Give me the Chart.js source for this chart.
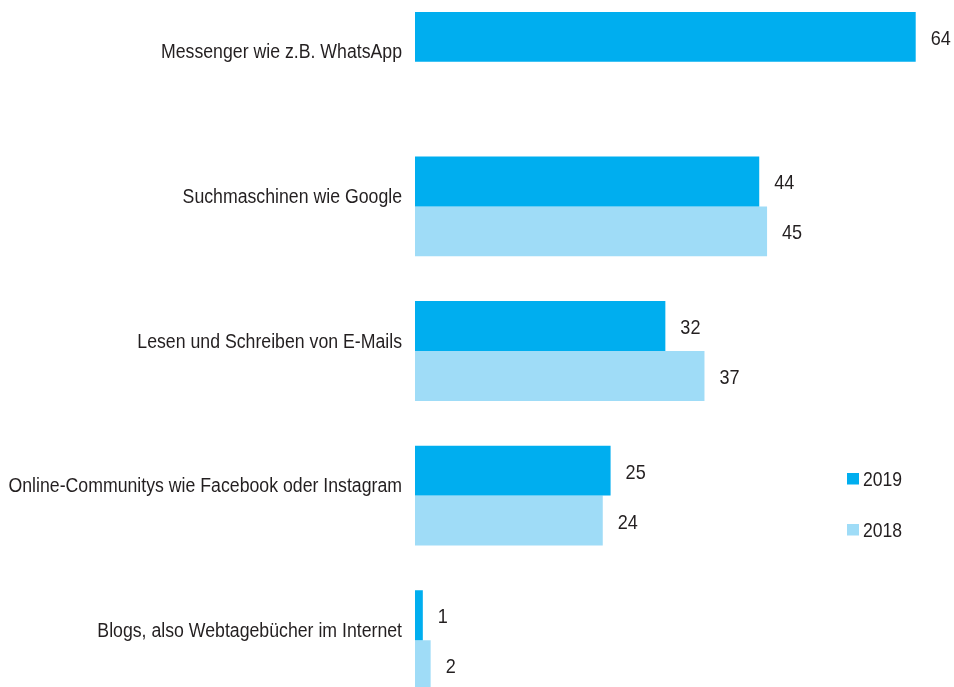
<!DOCTYPE html>
<html>
<head>
<meta charset="utf-8">
<script src="https://cdn.jsdelivr.net/npm/chart.js@4.4.1/dist/chart.umd.min.js"></script>
<style>
  html, body { margin: 0; padding: 0; background: #fff; overflow: hidden; }
  #frame { width: 954px; height: 687px; position: relative; overflow: hidden; }
  #wrap { width: 954px; height: 724px; position: absolute; left: 0; top: -11px; }
</style>
</head>
<body>
<div id="frame"><div id="wrap"><canvas id="chart"></canvas></div></div>
<script>
const categories = [
  'Messenger wie z.B. WhatsApp',
  'Suchmaschinen wie Google',
  'Lesen und Schreiben von E-Mails',
  'Online-Communitys wie Facebook oder Instagram',
  'Blogs, also Webtagebücher im Internet'
];
const values2019 = [64, 44, 32, 25, 1];
const values2018 = [null, 45, 37, 24, 2];
const seriesLabels = ['2019', '2018'];

const FONT = "'Liberation Sans', Arial, sans-serif";
const TEXT = '#231f20';
const SHIFT = 11; // canvas is moved up by this much

// condensed text: normal face squeezed horizontally
function narrowText(ctx, text, x, y, size, squeeze, align) {
  ctx.save();
  ctx.font = size + 'px ' + FONT;
  ctx.textAlign = align;
  ctx.textBaseline = 'alphabetic';
  ctx.translate(x, y);
  ctx.scale(squeeze, 1);
  ctx.fillText(text, 0, 0);
  ctx.restore();
}

// category names left of the bars
const categoryLabels = {
  id: 'categoryLabels',
  afterDraw(chart) {
    const ctx = chart.ctx;
    const yScale = chart.scales.y;
    ctx.fillStyle = TEXT;
    chart.data.labels.forEach((label, i) => {
      const y = yScale.getPixelForTick(i);
      narrowText(ctx, label, 402, y - 3.5, 20, 0.885, 'right');
    });
  }
};

// value next to the end of each bar
const valueLabels = {
  id: 'valueLabels',
  afterDatasetsDraw(chart) {
    const ctx = chart.ctx;
    ctx.fillStyle = TEXT;
    chart.data.datasets.forEach((ds, i) => {
      chart.getDatasetMeta(i).data.forEach((bar, j) => {
        if (ds.data[j] == null) return;
        narrowText(ctx, String(ds.data[j]), bar.x + 15, bar.y + 8, 21, 0.86, 'left');
      });
    });
  }
};

// legend on the right side
const sideLegend = {
  id: 'sideLegend',
  afterDraw(chart) {
    const ctx = chart.ctx;
    chart.data.datasets.forEach((ds, i) => {
      const base = 486 + i * 51 + SHIFT;
      ctx.fillStyle = ds.backgroundColor;
      ctx.fillRect(847, base - 13, 12, 11.5);
      ctx.fillStyle = TEXT;
      narrowText(ctx, ds.label, 863, base, 20, 0.88, 'left');
    });
  }
};

new Chart(document.getElementById('chart').getContext('2d'), {
  type: 'bar',
  data: {
    labels: categories,
    datasets: [
      {
        label: seriesLabels[0],
        data: values2019,
        backgroundColor: '#00aeef',
        categoryPercentage: 0.69,
        barPercentage: 1.0
      },
      {
        label: seriesLabels[1],
        data: values2018,
        backgroundColor: '#9fdcf7',
        categoryPercentage: 0.69,
        barPercentage: 1.0
      }
    ]
  },
  options: {
    indexAxis: 'y',
    responsive: true,
    maintainAspectRatio: false,
    animation: false,
    layout: {
      padding: { top: 0.5, bottom: 0.5, left: 0, right: 7 }
    },
    plugins: {
      legend: { display: false },
      tooltip: { enabled: false }
    },
    scales: {
      x: {
        display: false,
        min: 0,
        max: 68
      },
      y: {
        grid: { display: false },
        border: { display: false },
        ticks: { display: false },
        afterFit: (scale) => {
          scale.width = 415;
          scale.paddingTop = 0;
          scale.paddingBottom = 0;
        }
      }
    }
  },
  plugins: [categoryLabels, valueLabels, sideLegend]
});
</script>
</body>
</html>
